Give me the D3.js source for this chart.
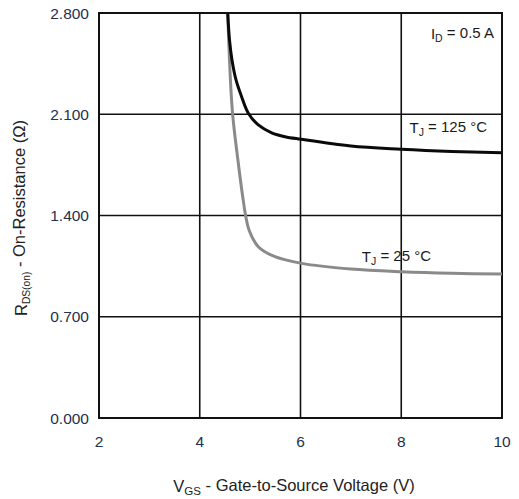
<!DOCTYPE html>
<html><head><meta charset="utf-8">
<script src="https://cdn.jsdelivr.net/npm/d3@7"></script>
<style>body{margin:0;background:#fff}svg{display:block}text{font-family:"Liberation Sans",Arial,sans-serif}</style>
</head><body><div id="c"></div>
<script>
const xTicks = [2, 4, 6, 8, 10];
const yTicks = [0, 0.7, 1.4, 2.1, 2.8];
const tj125V = [4.555, 4.591, 4.640, 4.720, 4.833, 4.964, 5.162, 5.428, 5.692, 6.01, 7, 8, 9, 10];
const tj125R = [2.8, 2.613, 2.475, 2.337, 2.219, 2.107, 2.026, 1.972, 1.945, 1.927, 1.88, 1.858, 1.843, 1.834];
const tj25V = [4.555, 4.646, 4.765, 4.853, 4.912, 4.978, 5.162, 5.494, 6.024, 7, 8, 9, 10];
const tj25R = [2.8, 2.129, 1.763, 1.530, 1.397, 1.300, 1.184, 1.115, 1.069, 1.03, 1.011, 1.0, 0.995];

const W = 519, H = 499;
const m = {l: 99, r: 502, t: 13, b: 418};
const svg = d3.select("#c").append("svg").attr("width", W).attr("height", H);
const x = d3.scaleLinear().domain([2, 10]).range([m.l, m.r]);
const y = d3.scaleLinear().domain([0, 2.8]).range([m.b, m.t]);

// grid
const g = svg.append("g");
g.selectAll(".vx").data(xTicks).join("line")
  .attr("x1", d => x(d)).attr("x2", d => x(d)).attr("y1", m.t).attr("y2", m.b)
  .attr("stroke", "#111").attr("stroke-width", 1.6);
g.selectAll(".hy").data(yTicks).join("line")
  .attr("x1", m.l).attr("x2", m.r).attr("y1", d => y(d)).attr("y2", d => y(d))
  .attr("stroke", "#111").attr("stroke-width", 1.6);
svg.append("rect").attr("x", m.l).attr("y", m.t).attr("width", m.r - m.l).attr("height", m.b - m.t)
  .attr("fill", "none").attr("stroke", "#111").attr("stroke-width", 2);

// tick labels
const tickColor = "#24304f";
svg.selectAll(".yt").data(yTicks).join("text")
  .attr("x", 89).attr("y", d => y(d)).attr("dy", "0.36em").attr("text-anchor", "end")
  .attr("font-size", 15.5).attr("fill", tickColor).text(d => d3.format(".3f")(d));
svg.selectAll(".xt").data(xTicks).join("text")
  .attr("x", d => x(d)).attr("y", 447).attr("text-anchor", "middle")
  .attr("font-size", 15.5).attr("fill", tickColor).text(d => d);

// curves
const line = d3.line().x(d => x(d[0])).y(d => y(d[1])).curve(d3.curveCatmullRom.alpha(0.5));
const s25 = tj25V.map((v, i) => [v, tj25R[i]]);
const s125 = tj125V.map((v, i) => [v, tj125R[i]]);
svg.append("path").attr("d", line(s25)).attr("fill", "none").attr("stroke", "#8a8a8a").attr("stroke-width", 3);
svg.append("path").attr("d", line(s125)).attr("fill", "none").attr("stroke", "#0a0a0a").attr("stroke-width", 3);

// annotations
function sub(t, main, subs, rest, sz) {
  t.append("tspan").text(main);
  t.append("tspan").attr("font-size", (sz || 0.7) + "em").attr("dy", "0.3em").text(subs);
  t.append("tspan").attr("dy", "-0.3em").text(rest);
}
const ann = {fs: 15, fill: "#1a1a1a"};
sub(svg.append("text").attr("x", 494).attr("y", 39).attr("text-anchor", "end")
  .attr("font-size", ann.fs).attr("fill", ann.fill), "I", "D", " = 0.5 A");
sub(svg.append("text").attr("x", 487).attr("y", 133).attr("text-anchor", "end")
  .attr("font-size", ann.fs).attr("fill", ann.fill), "T", "J", " = 125 °C");
sub(svg.append("text").attr("x", 431).attr("y", 262).attr("text-anchor", "end")
  .attr("font-size", ann.fs).attr("fill", ann.fill), "T", "J", " = 25 °C");

// axis titles
sub(svg.append("text").attr("x", 294).attr("y", 492).attr("text-anchor", "middle")
  .attr("font-size", 16.5).attr("fill", "#222"), "V", "GS", " - Gate-to-Source Voltage (V)");
sub(svg.append("text").attr("transform", "translate(27,218) rotate(-90)").attr("text-anchor", "middle")
  .attr("font-size", 16.5).attr("fill", "#222"), "R", "DS(on)", " - On-Resistance (Ω)", 0.62);
</script></body></html>
